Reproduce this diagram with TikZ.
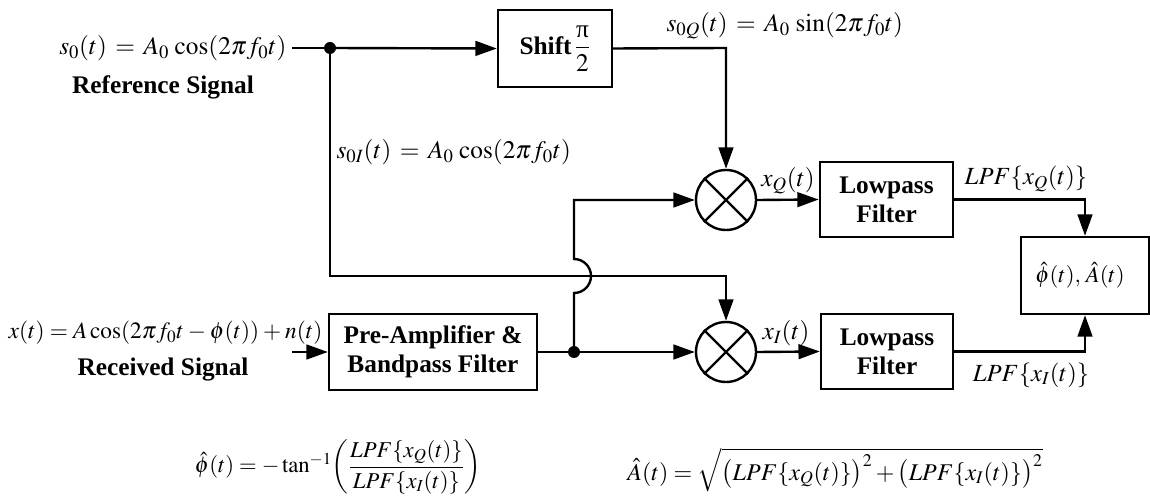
\documentclass[tikz,border=0pt]{standalone}
\usepackage{amsmath}
\usepackage{mathptmx}
\usepackage{fontspec}
\setmainfont{Liberation Serif}
\usetikzlibrary{arrows.meta}
\begin{document}
\begin{tikzpicture}[x=0.75pt,y=-0.75pt,
  every node/.style={font=\fontsize{19}{22}\selectfont},
  ln/.style={line width=1.8pt},
  arr/.style={line width=1.8pt,-{Triangle[length=16pt,width=11pt]}},
  blk/.style={draw,line width=1.8pt,align=center,inner sep=2pt,font=\fontsize{19}{22}\selectfont\bfseries},
  mix/.style={draw,circle,line width=1.8pt,minimum size=45pt,inner sep=0pt},
  lbl/.style={inner sep=1pt},
  wide/.style={lbl,execute at begin node={\thickmuskip=6mu plus 2mu\medmuskip=5mu}},
  bold/.style={font=\fontsize{19}{22}\selectfont\bfseries}
]
\useasboundingbox (0,0) rectangle (1150,502);

% nodes
\node[wide,anchor=east] (s0lab) at (288,48) {$s_0(t) = A_0\,\cos(2\pi f_0 t)$};
\node[bold] (reflab) at (163,87) {Reference Signal};
\coordinate (d1) at (330,48);
\node[blk,minimum width=85.5pt,minimum height=57.75pt] (shift) at (555,48.5) {Shift$\,\dfrac{\mbox{\mdseries π}}{2}$};
\coordinate (qc) at (726,48);
\node[wide,anchor=west] (s0qlab) at (665,26) {$s_{0Q}(t) = A_0\,\sin(2\pi f_0 t)$};
\node[wide,anchor=west] (s0ilab) at (335,152) {$s_{0I}(t) = A_0\,\cos(2\pi f_0 t)$};

\node[mix] (mq) at (726,200) {};
\node[mix] (mi) at (726,352) {};
\node[blk,minimum width=100pt,minimum height=56pt] (lq) at (886.5,199.5) {Lowpass\\Filter};
\node[blk,minimum width=99pt,minimum height=56pt] (li) at (887,351.5) {Lowpass\\Filter};
\node[draw,line width=1.8pt,minimum width=96pt,minimum height=57.75pt] (res) at (1085,275.5) {};
\node[lbl,font=\fontsize{17}{20}\selectfont] (restext) at (1080,275.5) {$\hat{\phi}(t),\,\hat{A}(t)$};
\node[blk,minimum width=156pt,minimum height=57pt] (pre) at (433,352) {Pre-Amplifier \&\\Bandpass Filter};

\node[lbl,anchor=east,font=\fontsize{17.5}{22}\selectfont,execute at begin node={\medmuskip=3mu\thickmuskip=4mu}] (xlab) at (324,333) {$x(t) = A\cos(2\pi f_0 t - \phi(t)) + n(t)$};
\node[bold] (reclab) at (163,370) {Received Signal};
\coordinate (xin) at (292,352);
\coordinate (j) at (574,352);
\coordinate (bb) at (574,293);
\coordinate (jt) at (574,200);
\coordinate (d1b) at (330,276);
\coordinate (ic) at (726,276);

\node[lbl] (xqlab) at (788,181) {$x_Q(t)$};
\node[lbl] (xilab) at (786,333) {$x_I(t)$};
\node[lbl,font=\fontsize{18.5}{22}\selectfont] (lpfq) at (1026,179) {$LPF\{x_Q(t)\}$};
\node[lbl,font=\fontsize{18.5}{22}\selectfont] (lpfi) at (1031,375) {$LPF\{x_I(t)\}$};

\node[lbl,font=\fontsize{17}{20}\selectfont] (phiform) at (338,467) {$\hat{\phi}(t) = -\tan^{-1}\!\left(\dfrac{LPF\{x_Q(t)\}}{LPF\{x_I(t)\}}\right)$};
\node[lbl,font=\fontsize{18}{22}\selectfont] (aform) at (835,470) {$\hat{A}(t) = \sqrt{\bigl(LPF\{x_Q(t)\}\bigr)^2 + \bigl(LPF\{x_I(t)\}\bigr)^2}$};

% mixer crosses
\draw[ln] (mq.north east) -- (mq.south west) (mq.north west) -- (mq.south east);
\draw[ln] (mi.north east) -- (mi.south west) (mi.north west) -- (mi.south east);

% connectors
\draw[ln] (s0lab.east) ++(4,0) -- (d1);
\draw[arr] (d1) -- (shift.west);
\draw[arr] (shift.east) -- (qc) -- (mq.north);
\draw[arr] (d1) -- (d1b) -- (ic) -- (mi.north);
\draw[arr] (xin) -- (pre.west);
\draw[arr] (pre.east) -- (mi.west);
\draw[arr] (j) -- (bb) arc[start angle=-90,end angle=90,radius=12.75pt] -- (jt) -- (mq.west);
\draw[arr] (mq.east) -- (lq.west);
\draw[arr] (mi.east) -- (li.west);
\draw[arr] (lq.east) -- (lq.east -| res.north) -- (res.north);
\draw[arr] (li.east) -- (li.east -| res.south) -- (res.south);

% dots
\fill (d1) circle[radius=4.5pt];
\fill (j) circle[radius=4.5pt];
\end{tikzpicture}
\end{document}
